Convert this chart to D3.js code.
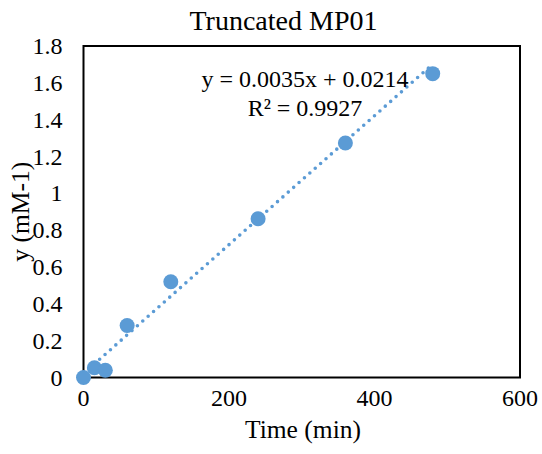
<!DOCTYPE html>
<html>
<head>
<meta charset="utf-8">
<script src="https://d3js.org/d3.v7.min.js"></script>
<style>
    body { margin: 0; background: #ffffff; }
    text { font-family: "Liberation Serif", "Times New Roman", serif; fill: #000000; }
    .tick-label { font-size: 24px; }
    .axis-title { font-size: 25.5px; }
    .chart-title { font-size: 28px; }
    .trend-label { font-size: 24px; }
</style>
</head>
<body>
<div id="container"></div>
<script>
    // data
    const times = [0, 15, 30, 60, 120, 240, 360, 480];
    const values = [0, 0.053, 0.039, 0.282, 0.52, 0.862, 1.273, 1.65];
    const xTicks = [0, 200, 400, 600];
    const yTicks = [0, 0.2, 0.4, 0.6, 0.8, 1, 1.2, 1.4, 1.6, 1.8];
    const trendSlope = 0.0035;
    const trendIntercept = 0.0214;
    const trendText = ["y = 0.0035x + 0.0214", "R² = 0.9927"];

    const W = 542, H = 454;
    const margin = {top: 46, right: 22, bottom: 76.5, left: 83.5};
    const width = W - margin.left - margin.right;
    const height = H - margin.top - margin.bottom;

    const svg = d3.select("#container")
        .append("svg")
        .attr("width", W)
        .attr("height", H);

    const g = svg.append("g")
        .attr("transform", "translate(" + margin.left + "," + margin.top + ")");

    const x = d3.scaleLinear().domain([0, 600]).range([0, width]);
    const y = d3.scaleLinear().domain([0, 1.8]).range([height, 0]);

    // plot box
    g.append("rect")
        .attr("x", 0)
        .attr("y", 0)
        .attr("width", width)
        .attr("height", height)
        .attr("fill", "none")
        .attr("stroke", "#000")
        .attr("stroke-width", 2);

    // tick labels (no tick marks in the original)
    g.selectAll(".xlab")
        .data(xTicks)
        .enter()
        .append("text")
        .attr("class", "tick-label")
        .attr("x", d => x(d))
        .attr("y", height + 28)
        .attr("text-anchor", "middle")
        .text(d => d);

    g.selectAll(".ylab")
        .data(yTicks)
        .enter()
        .append("text")
        .attr("class", "tick-label")
        .attr("x", -21)
        .attr("y", d => y(d) + 8)
        .attr("text-anchor", "end")
        .text(d => d3.format("~g")(d));

    // trendline, dotted
    const trendX = [0, 480];
    g.append("line")
        .attr("x1", x(trendX[0]))
        .attr("y1", y(trendSlope * trendX[0] + trendIntercept))
        .attr("x2", x(trendX[1]))
        .attr("y2", y(trendSlope * trendX[1] + trendIntercept))
        .attr("stroke", "#5B9BD5")
        .attr("stroke-width", 3.6)
        .attr("stroke-linecap", "round")
        .attr("stroke-dasharray", "0,7.2");

    // points
    g.selectAll(".pt")
        .data(times)
        .enter()
        .append("circle")
        .attr("cx", d => x(d))
        .attr("cy", (d, i) => y(values[i]))
        .attr("r", 7.5)
        .attr("fill", "#5B9BD5");

    // equation label
    g.selectAll(".trend")
        .data(trendText)
        .enter()
        .append("text")
        .attr("class", "trend-label")
        .attr("x", 305 - margin.left)
        .attr("y", (d, i) => 87 - margin.top + i * 29)
        .attr("text-anchor", "middle")
        .text(d => d);

    // titles
    svg.append("text")
        .attr("class", "chart-title")
        .attr("x", 283.5)
        .attr("y", 30)
        .attr("text-anchor", "middle")
        .text("Truncated MP01");

    svg.append("text")
        .attr("class", "axis-title")
        .attr("x", 303)
        .attr("y", 438)
        .attr("text-anchor", "middle")
        .text("Time (min)");

    svg.append("text")
        .attr("class", "axis-title")
        .attr("transform", "translate(29," + (margin.top + height / 2) + ") rotate(-90)")
        .attr("text-anchor", "middle")
        .text("y (mM-1)");
</script>
</body>
</html>
